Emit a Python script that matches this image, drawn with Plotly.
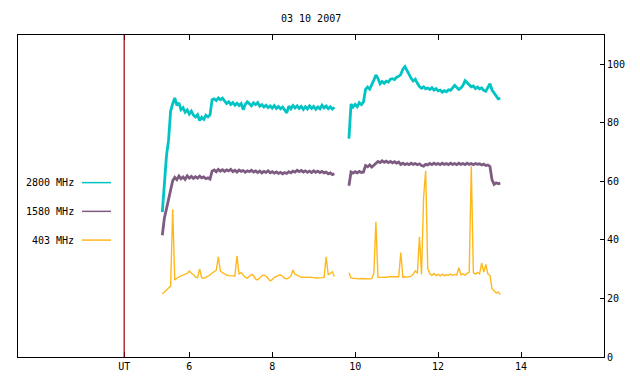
import plotly.graph_objects as go

# ---- data (hours UT, relative flux) ----
time_a = [5.35, 5.40, 5.45, 5.50, 5.55, 5.60, 5.65, 5.70, 5.75, 5.80, 5.85, 5.90, 5.95, 6.00,
          6.05, 6.10, 6.15, 6.20, 6.25, 6.30, 6.35, 6.40, 6.45, 6.50, 6.55, 6.60, 6.65, 6.70,
          6.75, 6.80, 6.85, 6.90, 6.95, 7.00, 7.05, 7.10, 7.15, 7.20, 7.25, 7.30, 7.35, 7.40,
          7.45, 7.50, 7.55, 7.60, 7.65, 7.70, 7.75, 7.80, 7.85, 7.90, 7.95, 8.00, 8.05, 8.10,
          8.15, 8.20, 8.25, 8.30, 8.35, 8.40, 8.45, 8.50, 8.55, 8.60, 8.65, 8.70, 8.75, 8.80,
          8.85, 8.90, 8.95, 9.00, 9.05, 9.10, 9.15, 9.20, 9.25, 9.30, 9.35, 9.40, 9.45, 9.50]
time_b = [9.85, 9.90, 9.95, 10.00, 10.05, 10.10, 10.15, 10.20, 10.25, 10.30, 10.35, 10.40,
          10.45, 10.50, 10.55, 10.60, 10.65, 10.70, 10.75, 10.80, 10.85, 10.90, 10.95, 11.00,
          11.05, 11.10, 11.15, 11.20, 11.25, 11.30, 11.35, 11.40, 11.45, 11.50, 11.55, 11.60,
          11.65, 11.70, 11.75, 11.80, 11.85, 11.90, 11.95, 12.00, 12.05, 12.10, 12.15, 12.20,
          12.25, 12.30, 12.35, 12.40, 12.45, 12.50, 12.55, 12.60, 12.65, 12.70, 12.75, 12.80,
          12.85, 12.90, 12.95, 13.00, 13.05, 13.10, 13.15, 13.20, 13.25, 13.30, 13.35, 13.40,
          13.45, 13.50]
gap_time = [9.67]

f2800_a = [49.5, 58, 68.7, 74, 84, 86.5, 88.5, 86, 86.8, 84.5, 85.2, 83.6, 84.4, 83,
           84, 82.6, 82, 82.8, 80.8, 81.9, 81.2, 82.6, 82, 82.7, 87.9, 88.2, 87.6, 88.5,
           87.9, 88.4, 87.4, 86.6, 87.2, 86.3, 86.9, 86, 86.7, 85.9, 86.6, 84.5, 86.3, 87.2,
           86.5, 85.8, 86.8, 86.2, 86.9, 85.7, 86.2, 85.4, 86, 85.2, 85.8, 85, 85.9, 84.9,
           85.6, 84.8, 85.4, 84.2, 83.4, 85.7, 84.8, 85.9, 85.1, 85.8, 84.9, 85.6, 84.6, 85.5,
           84.7, 85.8, 84.9, 85.6, 84.6, 85.4, 84.8, 86, 85.1, 85.7, 84.8, 85.5, 84.7, 85.3]
f2800_b = [74.6, 86.4, 85.4, 86.3, 85.5, 86.9, 86.2, 87.1, 91.4, 92.2, 91.5, 92.8,
           94.6, 96.3, 95.2, 93.3, 94.1, 93.5, 94.2, 93.9, 94.9, 95.1, 94.8, 95.6,
           95.9, 96.5, 98.3, 99.2, 97.8, 96.4, 95.2, 94.3, 94.9, 93.5, 92.4, 91.8,
           92.3, 91.6, 91.9, 91.4, 92, 91.2, 91.7, 90.9, 91.2, 90.5, 91, 90.6,
           91.3, 91.1, 91.8, 92.8, 92.1, 91.4, 91.9, 92.8, 94.4, 93.8, 92.9, 92.3,
           92.6, 91.7, 92.2, 91.6, 91.9, 91.1, 90.8, 91.9, 93.4, 91.2, 90.1, 89.2,
           88.2, 88.4]

f1580_a = [41.6, 47.5, 50.6, 53.5, 57, 60.2, 61.4, 60.6, 61.8, 60.9, 61.5, 60.7, 61.9, 61.1,
           61.7, 61, 61.6, 61.1, 61.8, 61.2, 61.5, 60.9, 61.2, 60.8, 63.5, 63.9, 63.3, 64.1,
           63.5, 64, 63.4, 63.9, 63.6, 64.1, 63.3, 63.8, 63.2, 63.9, 63.4, 63.7, 63.1, 63.6,
           63.3, 63.8, 63.2, 63.6, 63, 63.5, 62.9, 63.4, 63.1, 63.6, 62.9, 63.3, 62.8, 63.2,
           62.7, 63.1, 62.6, 63, 62.7, 63.3, 62.9, 63.5, 63.2, 63.8, 63.3, 63.7, 63.2, 63.6,
           63.1, 63.5, 63, 63.6, 63.1, 63.5, 63, 63.4, 62.9, 63.2, 62.6, 62.9, 62.3, 62.6]
f1580_b = [58.5, 63.2, 62.8, 63.3, 62.9, 63.4, 63, 63.2, 65.4, 65, 65.6, 64.9,
           65.5, 66.2, 66.8, 66.4, 67, 66.5, 66.9, 66.4, 66.8, 66.3, 66.7, 66.2,
           66.6, 65.8, 66.2, 65.7, 66.1, 65.7, 66.2, 65.8, 66.1, 65.7, 66, 65.4,
           65.2, 65.8, 65.6, 66.1, 65.7, 66.2, 65.8, 66.1, 65.7, 66.2, 65.8, 66.1,
           65.7, 66.2, 65.8, 66.1, 65.7, 66.2, 65.8, 66.1, 65.7, 66.2, 65.8, 66.1,
           65.7, 66.1, 65.8, 66, 65.6, 65.9, 65.4, 65.6, 65.1, 60.5, 59, 59.5,
           59.2, 59.4]

f403_a = [21.5, 22.3, 22.9, 23.6, 24.3, 50.5, 26.3, 26.9, 27.4, 27.7, 28, 28.2, 28.6, 29.4,
          28.6, 28.2, 27.3, 27.1, 30.1, 27, 26.9, 27.2, 27.6, 28, 28.7, 29.2, 29.6, 34.2,
          29.4, 28.8, 28.3, 28, 27.8, 27.7, 27.7, 27.7, 34.6, 28.3, 28.9, 28.1, 27.2, 26.9,
          27.6, 28.2, 27.8, 26.6, 26.3, 27.1, 27.8, 27.9, 27.6, 26.8, 26, 26.4, 27.2, 27.5,
          27.9, 28, 27.6, 26.9, 26.7, 27, 27.6, 29.7, 28.2, 28, 27.5, 27.2, 27.3, 27.2,
          27.2, 27.3, 27.1, 27.1, 27, 27, 26.9, 27.1, 27.2, 34.2, 28, 28.5, 29.1, 27.5]
f403_b = [28.8, 27, 26.9, 26.8, 26.8, 26.7, 26.8, 26.7, 26.8, 26.7, 26.7, 26.8,
          28.5, 46.2, 27.2, 27.1, 27.2, 27.3, 27.2, 27.4, 27.4, 27.3, 27.4, 27.3,
          27.4, 35.7, 27.3, 27.4, 27.3, 27.5, 27.6, 28.3, 29.4, 28.6, 41.1, 28.2,
          54.6, 63.6, 30.2, 28.4, 27.9, 28.5, 27.8, 28.2, 27.7, 28.3, 27.8, 28.1,
          27.9, 28.3, 27.9, 28.2, 28, 30.5, 28.1, 28.4, 28, 28.6, 28.9, 65.2,
          28.8, 28.3, 28.9, 28.4, 32.1, 29, 31.6, 28.3, 27.9, 23.3, 22.4, 21.9,
          22.2, 21.3]

series_names = ["2800 MHz", "1580 MHz", "403 MHz"]
series_colors = ["#00c4c4", "#7e5c82", "#ffb81c"]
x_tick_vals = [4.43, 6, 8, 10, 12, 14]
x_tick_text = ["UT", "6", "8", "10", "12", "14"]
y_tick_vals = [0, 20, 40, 60, 80, 100]
ut_marker = 4.43

# ---- figure ----
W, H = 640, 384
L, R, T, B = 18, 604, 35, 360
FONT = "DejaVu Sans Mono"

def px(xp):
    return (xp - L) / (R - L)

def py(yp):
    return (B - yp) / (B - T)

t_all = time_a + gap_time + time_b
fig = go.Figure()
for name, col, va, vb, w in [
    (series_names[2], series_colors[2], f403_a, f403_b, 1.4),
    (series_names[1], series_colors[1], f1580_a, f1580_b, 2.8),
    (series_names[0], series_colors[0], f2800_a, f2800_b, 2.8),
]:
    fig.add_trace(go.Scatter(x=t_all, y=va + [None] + vb, mode="lines", name=name,
                             line=dict(color=col, width=w), connectgaps=False,
                             showlegend=False, hoverinfo="skip"))

shapes = [dict(type="line", xref="x", yref="paper", x0=ut_marker, x1=ut_marker, y0=0, y1=1,
               line=dict(color="#9a0000", width=1.2), layer="above")]
annotations = [dict(text="03 10 2007", xref="paper", yref="paper", x=px(311), y=py(18),
                    showarrow=False, font=dict(family=FONT, size=10, color="black"),
                    xanchor="center", yanchor="middle")]
for i, (name, col) in enumerate(zip(series_names, series_colors)):
    yy = 184 + 29 * i
    annotations.append(dict(text=name, xref="paper", yref="paper", x=px(76), y=py(yy),
                            showarrow=False, xanchor="right", yanchor="middle",
                            font=dict(family=FONT, size=10, color="black")))
    shapes.append(dict(type="line", xref="paper", yref="paper", x0=px(82), x1=px(111),
                       y0=py(yy), y1=py(yy), line=dict(color=col, width=1.5)))

fig.update_layout(
    width=W, height=H,
    margin=dict(l=L, r=W - R, t=T, b=H - B, pad=0),
    paper_bgcolor="white", plot_bgcolor="white",
    font=dict(family=FONT, size=10, color="black"),
    shapes=shapes, annotations=annotations, showlegend=False,
    xaxis=dict(range=[1.87, 16], tickvals=x_tick_vals, ticktext=x_tick_text,
               showgrid=False, zeroline=False, showline=True, linecolor="black",
               linewidth=1, mirror="ticks", ticks="inside", ticklen=5,
               tickcolor="black", tickfont=dict(family=FONT, size=10)),
    yaxis=dict(range=[0, 110], tickvals=y_tick_vals, side="right",
               showgrid=False, zeroline=False, showline=True, linecolor="black",
               linewidth=1, mirror=True, ticks="inside", ticklen=4,
               tickcolor="black", tickfont=dict(family=FONT, size=10)),
)

fig.write_html("out.html", config={"displayModeBar": False},
               post_script="document.body.style.margin='0';")
